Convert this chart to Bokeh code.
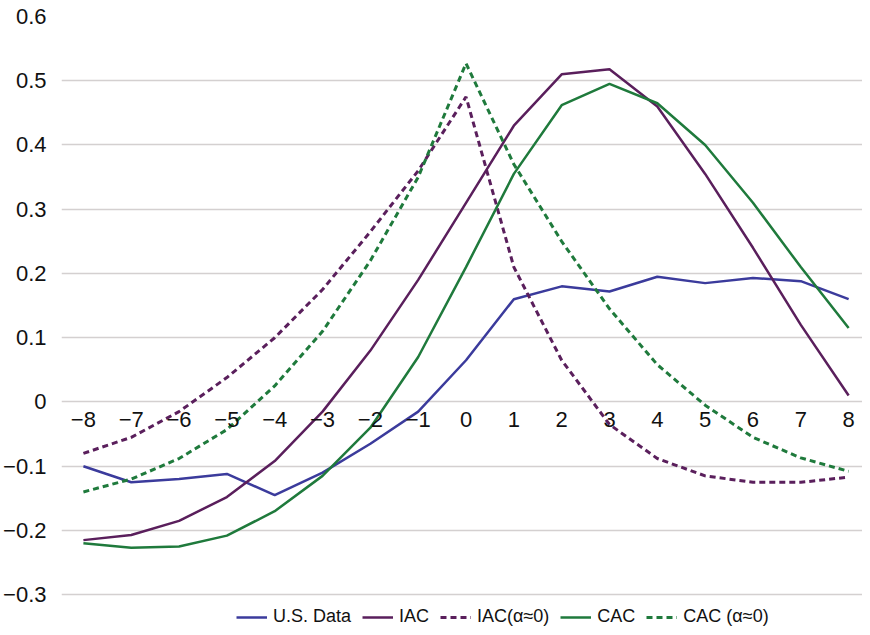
from bokeh.plotting import figure
from bokeh.models import FixedTicker, Legend, LegendItem, Range1d
from bokeh.embed import file_html
from bokeh.resources import INLINE

quarters = list(range(-8, 9))
us_data = [-0.100, -0.125, -0.120, -0.112, -0.145, -0.110, -0.065, -0.015, 0.065, 0.160, 0.180, 0.172, 0.195, 0.185, 0.193, 0.188, 0.160]
iac = [-0.215, -0.207, -0.185, -0.148, -0.092, -0.015, 0.080, 0.190, 0.310, 0.430, 0.510, 0.518, 0.460, 0.355, 0.240, 0.120, 0.010]
iac_a0 = [-0.080, -0.055, -0.015, 0.038, 0.100, 0.175, 0.265, 0.360, 0.475, 0.210, 0.065, -0.035, -0.088, -0.115, -0.125, -0.125, -0.117]
cac = [-0.220, -0.227, -0.225, -0.208, -0.170, -0.115, -0.040, 0.070, 0.210, 0.355, 0.462, 0.495, 0.465, 0.400, 0.310, 0.210, 0.115]
cac_a0 = [-0.140, -0.120, -0.088, -0.043, 0.025, 0.110, 0.220, 0.350, 0.527, 0.370, 0.250, 0.145, 0.058, -0.005, -0.055, -0.087, -0.108]
y_ticks = [-0.3, -0.2, -0.1, 0, 0.1, 0.2, 0.3, 0.4, 0.5, 0.6]
y_tick_labels = {-0.3: "\u22120.3", -0.2: "\u22120.2", -0.1: "\u22120.1", 0: "0", 0.1: "0.1", 0.2: "0.2",
                 0.3: "0.3", 0.4: "0.4", 0.5: "0.5", 0.6: "0.6"}
x_tick_labels = {q: (("\u2212" + str(-q)) if q < 0 else str(q)) for q in quarters}

BLUE = "#3b3b9c"
PURPLE = "#5a1f5c"
GREEN = "#1f7a3c"
FONT = "Liberation Sans"

p = figure(width=862, height=627, output_backend="svg", toolbar_location=None,
           x_range=Range1d(-8.458, 8.29), y_range=Range1d(-0.351, 0.6),
           min_border_left=58, min_border_right=0, min_border_top=16, min_border_bottom=0)
p.outline_line_color = None
p.background_fill_color = "white"
p.border_fill_color = "white"

# y axis
p.yaxis.ticker = FixedTicker(ticks=y_ticks)
p.yaxis.major_label_overrides = y_tick_labels
p.yaxis.axis_line_color = None
p.yaxis.major_tick_line_color = None
p.yaxis.minor_tick_line_color = None
p.yaxis.major_label_text_font = FONT
p.yaxis.major_label_text_font_size = "22px"
p.yaxis.major_label_text_color = "#111111"
p.yaxis.major_label_standoff = 9

# x axis at zero
p.xaxis.ticker = FixedTicker(ticks=quarters)
p.xaxis.major_label_overrides = x_tick_labels
p.xaxis.fixed_location = 0
p.xaxis.axis_line_color = None
p.xaxis.major_tick_line_color = None
p.xaxis.minor_tick_line_color = None
p.xaxis.major_label_text_font = FONT
p.xaxis.major_label_text_font_size = "22px"
p.xaxis.major_label_text_color = "#111111"
p.xaxis.major_label_standoff = 4

p.xgrid.grid_line_color = None
p.ygrid.ticker = FixedTicker(ticks=y_ticks)
p.ygrid.grid_line_color = "#d4d0d0"
p.ygrid.grid_line_width = 1.5

r_us = p.line(quarters, us_data, line_color=BLUE, line_width=2.5)
r_iac = p.line(quarters, iac, line_color=PURPLE, line_width=2.5)
r_iac0 = p.line(quarters, iac_a0, line_color=PURPLE, line_width=3, line_dash="6 4")
r_cac = p.line(quarters, cac, line_color=GREEN, line_width=2.5)
r_cac0 = p.line(quarters, cac_a0, line_color=GREEN, line_width=3, line_dash="6 4")

legend = Legend(items=[
    LegendItem(label="U.S. Data", renderers=[r_us]),
    LegendItem(label="IAC", renderers=[r_iac]),
    LegendItem(label="IAC(\u03b1\u22480)", renderers=[r_iac0]),
    LegendItem(label="CAC", renderers=[r_cac]),
    LegendItem(label="CAC (\u03b1\u22480)", renderers=[r_cac0]),
], orientation="horizontal", location=(175, 0))
legend.label_text_font = FONT
legend.label_text_font_size = "18px"
legend.label_text_color = "#111111"
legend.glyph_width = 31
legend.glyph_height = 14
legend.label_standoff = 6
legend.spacing = 11
legend.padding = 0
legend.margin = 0
legend.border_line_color = None
legend.background_fill_alpha = 0
p.add_layout(legend, "center")

open("out.html", "w").write(file_html(p, INLINE))
